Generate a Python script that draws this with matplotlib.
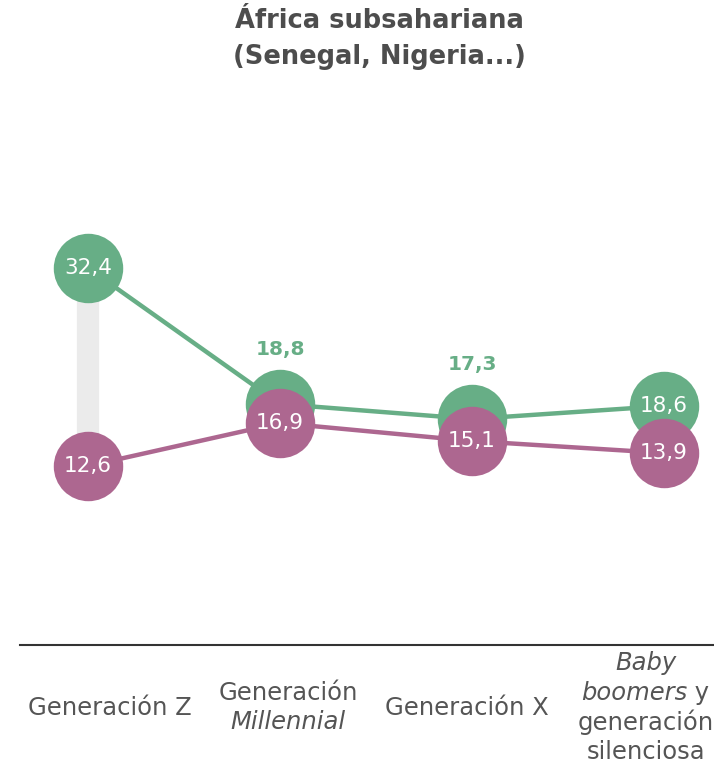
import matplotlib.pyplot as plt

# data
categories = ['Generación Z', 'Generación Millennial', 'Generación X',
              'Baby boomers y generación silenciosa']
green_vals = [32.4, 18.8, 17.3, 18.6]
purple_vals = [12.6, 16.9, 15.1, 13.9]

GREEN = '#67ae86'
PURPLE = '#ad6790'
GRAY = '#ebebeb'
TXT = '#555555'

plt.rcParams['font.family'] = ['DejaVu Sans']

fig = plt.figure(figsize=(7.14, 7.7), dpi=100)
ax = fig.add_axes([20 / 714, 125 / 770, 694 / 714, 525 / 770])

x = list(range(len(categories)))

# gray connector between the two values
lo = [min(g, p) for g, p in zip(green_vals, purple_vals)]
hi = [max(g, p) for g, p in zip(green_vals, purple_vals)]
ax.vlines(x, lo, hi, colors=GRAY, linewidth=16, zorder=1)

ax.plot(x, green_vals, color=GREEN, lw=3.2, zorder=2)
ax.plot(x, green_vals, 'o', ms=50, color=GREEN, mec='none', zorder=3)
ax.plot(x, purple_vals, color=PURPLE, lw=3.2, zorder=4)
ax.plot(x, purple_vals, 'o', ms=50, color=PURPLE, mec='none', zorder=5)


def fmt(v):
    return f'{v:.1f}'.replace('.', ',')


for xi, g, p in zip(x, green_vals, purple_vals):
    if abs(g - p) < 3:
        ax.annotate(fmt(g), (xi, g), xytext=(0, 39), textcoords='offset points',
                    ha='center', va='center', color=GREEN, fontsize=14.5,
                    fontweight='bold', zorder=6)
    else:
        ax.text(xi, g, fmt(g), ha='center', va='center', color='white',
                fontsize=15.5, zorder=6)
    ax.text(xi, p, fmt(p), ha='center', va='center', color='white',
            fontsize=15.5, zorder=6)

ax.set_xlim(-0.354, 3.26)
ax.set_ylim(-5.3, 47.2)
for s in ['top', 'right', 'left']:
    ax.spines[s].set_visible(False)
ax.spines['bottom'].set_color('#333333')
ax.spines['bottom'].set_linewidth(1.5)
ax.set_xticks([])
ax.set_yticks([])

# category labels (with italic parts)
tr = ax.get_xaxis_transform()
fs = 17.5
kw = dict(xycoords=tr, textcoords='offset points', ha='center', va='center',
          color=TXT, fontsize=fs, annotation_clip=False)
px = 0.72
ax.annotate('Generación Z', (0.115, 0), xytext=(0, -63 * px), **kw)
ax.annotate('Generación', (1.042, 0), xytext=(0, -48 * px), **kw)
ax.annotate('Millennial', (1.042, 0), xytext=(0, -77 * px), style='italic', **kw)
ax.annotate('Generación X', (1.974, 0), xytext=(0, -63 * px), **kw)
ax.annotate('Baby', (2.906, 0), xytext=(0, -18 * px), style='italic', **kw)
t = ax.annotate('boomers', (2.906, 0), xytext=(-12 * px, -48 * px), style='italic', **kw)
ax.annotate(' y', xy=(1, 0.5), xycoords=t, ha='left', va='center',
            color=TXT, fontsize=fs, annotation_clip=False)
ax.annotate('generación', (2.906, 0), xytext=(0, -77 * px), **kw)
ax.annotate('silenciosa', (2.906, 0), xytext=(0, -107 * px), **kw)

fig.text(379 / 714, 1 - 39 / 770, 'África subsahariana\n(Senegal, Nigeria...)',
         ha='center', va='center', fontsize=18.5, fontweight='bold',
         color='#4d4d4d', linespacing=1.5)

fig.savefig('out.png', dpi=100)
